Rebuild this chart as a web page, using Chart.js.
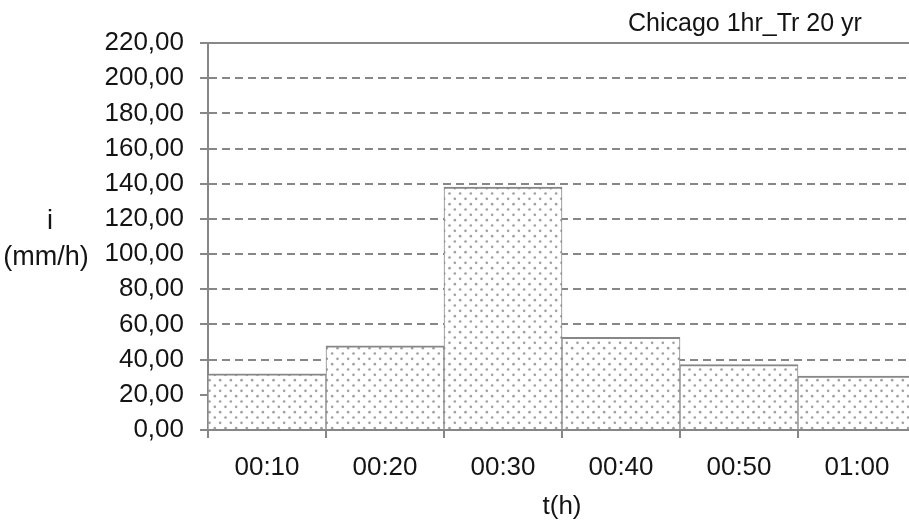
<!DOCTYPE html>
<html>
<head>
<meta charset="utf-8">
<script src="https://cdn.jsdelivr.net/npm/chart.js@4/dist/chart.umd.min.js"></script>
<style>
  html, body { margin: 0; padding: 0; background: #ffffff; overflow: hidden; }
  #wrap { width: 909px; height: 524px; overflow: hidden; }
  canvas { display: block; }
</style>
</head>
<body>
<div id="wrap"><canvas id="c" width="917" height="524"></canvas></div>
<script>
// Chicago design storm, 1 h duration, 20-year return period
const categories = ['00:10', '00:20', '00:30', '00:40', '00:50', '01:00'];
const intensity = [32.0, 47.9, 138.1, 52.7, 37.2, 30.6]; // mm/h
const yMin = 0;
const yMax = 220;
const yStep = 20;
const chartTitle = 'Chicago 1hr_Tr 20 yr';
const yTitleLines = ['i', '(mm/h)'];
const xTitle = 't(h)';

const FONT = '"Liberation Sans", Arial, Helvetica, sans-serif';
const INK = '#141414';
const LINE = '#878787';

// dotted fill used for the bars
function dotPattern() {
  const t = document.createElement('canvas');
  t.width = 32; t.height = 32;
  const g = t.getContext('2d');
  g.fillStyle = '#ffffff';
  g.fillRect(0, 0, 32, 32);
  g.fillStyle = '#a0a0a0';
  const dx = 32 / 3, dy = 32 / 6;
  for (let r = 0; r < 6; r++) {
    const shift = (r % 2) ? dx / 2 : 0;
    for (let c = 0; c < 3; c++) {
      const x = 1.5 + c * dx + shift;
      const y = 1.5 + r * dy;
      g.beginPath();
      g.arc(x, y, 1.3, 0, Math.PI * 2);
      g.fill();
    }
  }
  return g.createPattern(t, 'repeat');
}

const ctx = document.getElementById('c').getContext('2d');

const extraText = {
  id: 'extraText',
  afterDraw(chart) {
    const c = chart.ctx;
    c.save();
    c.fillStyle = INK;
    c.textAlign = 'center';
    c.textBaseline = 'alphabetic';
    c.font = '25px ' + FONT;
    c.fillText(chartTitle, 745, 31);
    c.font = '27px ' + FONT;
    c.fillText(yTitleLines[0], 50, 229);
    c.fillText(yTitleLines[1], 46, 265);
    c.restore();
  }
};

new Chart(ctx, {
  type: 'bar',
  data: {
    labels: categories,
    datasets: [{
      data: intensity,
      backgroundColor: dotPattern(),
      borderColor: LINE,
      borderWidth: { top: 2, left: 1, right: 1, bottom: 0 },
      borderSkipped: false,
      barPercentage: 1,
      categoryPercentage: 1
    }]
  },
  options: {
    responsive: false,
    animation: false,
    layout: { padding: { top: 43, right: 1, left: 0, bottom: 0 } },
    plugins: {
      legend: { display: false },
      tooltip: { enabled: false },
      title: { display: false }
    },
    scales: {
      x: {
        type: 'category',
        offset: true,
        grid: {
          display: true,
          offset: true,
          drawOnChartArea: false,
          drawTicks: true,
          tickLength: 8,
          color: LINE,
          lineWidth: 2
        },
        border: { display: true, color: LINE, width: 2 },
        ticks: {
          color: INK,
          font: { family: FONT, size: 26 },
          padding: 14,
          maxRotation: 0
        },
        title: {
          display: true,
          text: xTitle,
          color: INK,
          font: { family: FONT, size: 26 },
          padding: { top: 0, bottom: 2 }
        },
        afterFit(axis) { axis.height = 94; }
      },
      y: {
        min: yMin,
        max: yMax,
        ticks: {
          stepSize: yStep,
          color: INK,
          font: { family: FONT, size: 26 },
          padding: 16,
          callback: (v) => Number(v).toFixed(2).replace('.', ',')
        },
        grid: {
          color: LINE,
          lineWidth: 2,
          tickLength: 8,
          tickColor: LINE,
          tickWidth: 2,
          tickBorderDash: []
        },
        border: {
          display: true,
          color: LINE,
          width: 2,
          dash: (c) => (c.tick && c.tick.value === yMax) ? [] : [8, 5]
        },
        afterFit(axis) { axis.width = 208; }
      }
    }
  },
  plugins: [extraText]
});
</script>
</body>
</html>
